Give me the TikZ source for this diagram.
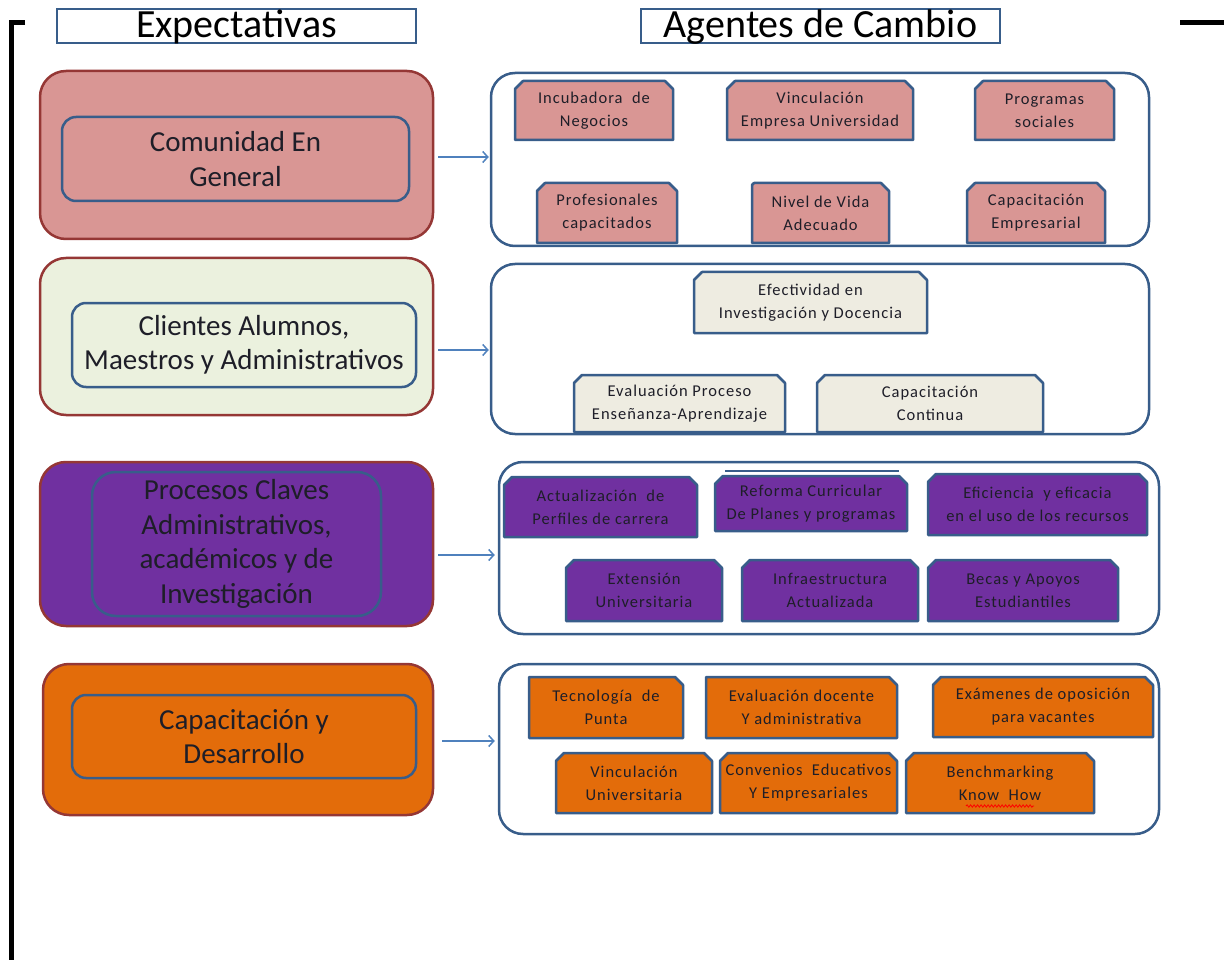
\documentclass[tikz,border=0pt]{standalone}
\usepackage{fontspec}
\setmainfont{Carlito}
\newfontfamily\agentfont[LetterSpace=6]{Carlito}
\usetikzlibrary{arrows.meta,calc,decorations.pathmorphing}
\pgfdeclarelayer{back}
\pgfdeclarelayer{mid}
\pgfsetlayers{back,mid,main}
\definecolor{bluec}{HTML}{385D8A}
\definecolor{arrowc}{HTML}{4F81BD}
\definecolor{redc}{HTML}{953735}
\definecolor{pinkc}{HTML}{D99694}
\definecolor{greenc}{HTML}{EBF1DE}
\definecolor{purpc}{HTML}{7030A0}
\definecolor{orngc}{HTML}{E36C0A}
\definecolor{beigec}{HTML}{EEECE1}
\definecolor{textc}{HTML}{1E1E28}
\tikzset{
  header/.style={draw=bluec, line width=2.5pt, fill=white, inner sep=0pt,
    text height=29pt, text depth=5pt,
    font=\fontsize{40}{44}\selectfont, text=black},
  bigbox/.style={draw=redc, line width=2.5pt, rounded corners=26pt, inner sep=0pt},
  innerbox/.style={draw=bluec, line width=2.5pt, rounded corners=14pt, inner sep=0pt,
    align=center, font=\fontsize{29}{34.5}\selectfont, text=textc},
  container/.style={draw=bluec, line width=2.5pt, rounded corners=24pt, fill=white, inner sep=0pt},
  agenttext/.style={inner sep=0pt, outer sep=0pt, align=center,
    font=\agentfont\fontsize{16.5}{23}\selectfont, text=textc},
  agentframe/.style={draw=bluec, line width=2.5pt, line join=round},
  conn/.style={draw=arrowc, line width=1.5pt, -{Straight Barb[length=5pt,width=11pt,line width=1.5pt]}},
  bracket/.style={draw=black, line width=4.5pt}
}
% name, x1, y1, x2, y2, fill, left snip, text
\newcommand{\agentbox}[8]{%
  \node[agenttext, minimum width={#4pt-#2pt}, minimum height={#5pt-#3pt}]
    (#1) at ({(#2+#4)/2},{(#3+#5)/2}) {#8};
  \begin{pgfonlayer}{mid}
    \draw[agentframe, fill=#6] (#1.south west) -- ([yshift=-#7pt]#1.north west)
      -- ([xshift=#7pt]#1.north west) -- ([xshift=-8pt]#1.north east)
      -- ([yshift=-8pt]#1.north east) -- (#1.south east) -- cycle;
  \end{pgfonlayer}}
\begin{document}
\begin{tikzpicture}[x=1pt, y=-1pt]
\useasboundingbox (0,0) rectangle (1224,960);

% bracket lines
\draw[bracket] (25,22.5) -- (11.5,22.5) -- (11.5,962);
\draw[bracket, line width=5pt] (1180,22.5) -- (1226,22.5);

% headers
\node[header, minimum width=359pt, minimum height=34pt] (h1) at (236.5,26) {Expectativas};
\node[header, minimum width=359pt, minimum height=34pt] (h2) at (820.5,26) {Agentes de Cambio};

% left groups
\node[bigbox, fill=pinkc, minimum width=393pt, minimum height=168pt] (g1) at (236.5,155) {};
\node[innerbox, minimum width=347pt, minimum height=84pt] (g1t) at (235.5,159) {Comunidad En\\General};

\node[bigbox, fill=greenc, minimum width=393pt, minimum height=157pt] (g2) at (236.5,336.5) {};
\node[innerbox, minimum width=344pt, minimum height=84pt] (g2t) at (244,345) {Clientes Alumnos,\\Maestros y Administrativos};

\node[bigbox, fill=purpc, minimum width=393pt, minimum height=164pt] (g3) at (236.5,544) {};
\node[innerbox, rounded corners=24pt, minimum width=289pt, minimum height=144pt] (g3t) at (236.5,544)
  {Procesos Claves\\Administrativos,\\académicos y de\\Investigación};

\node[bigbox, fill=orngc, minimum width=390pt, minimum height=151pt] (g4) at (238,739.5) {};
\node[innerbox, minimum width=344pt, minimum height=83pt] (g4t) at (244,736.5) {Capacitación y\\Desarrollo};

% right containers
\begin{pgfonlayer}{back}
\node[container, minimum width=658pt, minimum height=173pt] (c1) at (820,159.5) {};
\node[container, minimum width=658pt, minimum height=170pt] (c2) at (820,349) {};
\node[container, minimum width=660pt, minimum height=172pt] (c3) at (829,548) {};
\node[container, minimum width=660pt, minimum height=170pt] (c4) at (829,749) {};
\end{pgfonlayer}

% arrows
\draw[conn] ([xshift=4pt,yshift=-2pt]g1.east) -- ([xshift=-1pt,yshift=-2pt]g1.east -| c1.west);
\draw[conn] ([xshift=4pt,yshift=-13.5pt]g2.east) -- ([xshift=-1pt,yshift=-13.5pt]g2.east -| c2.west);
\draw[conn] ([xshift=4pt,yshift=-11pt]g3.east) -- ([xshift=-3pt,yshift=-11pt]g3.east -| c3.west);
\draw[conn] ([xshift=8pt,yshift=-1.5pt]g4.east) -- ([xshift=-3pt,yshift=-1.5pt]g4.east -| c4.west);

% group 1
\agentbox{a11}{515}{81}{673}{140}{pinkc}{8}{Incubadora\ \ de\\Negocios}
\agentbox{a12}{727}{81}{913}{140}{pinkc}{8}{Vinculación\\Empresa Universidad}
\agentbox{a13}{975}{81}{1114}{140}{pinkc}{8}{Programas\\sociales}
\agentbox{a14}{537}{183}{677}{243}{pinkc}{8}{Profesionales\\capacitados}
\agentbox{a15}{752}{183}{889}{243}{pinkc}{2}{Nivel de Vida\\Adecuado}
\agentbox{a16}{967}{183}{1105}{243}{pinkc}{8}{Capacitación\\Empresarial}

% group 2
\agentbox{a21}{694}{272}{927}{333}{beigec}{8}{Efectividad en\\Investigación y Docencia}
\agentbox{a22}{574}{375}{785}{432}{beigec}{8}{Evaluación Proceso\\Enseñanza-Aprendizaje}
\agentbox{a23}{817}{375}{1043}{432}{beigec}{8}{Capacitación\\Continua}

% group 3
\agentbox{a31}{504}{477}{697}{537}{purpc}{8}{Actualización\ \ de\\Perfiles de carrera}
\agentbox{a32}{715}{476}{907}{531}{purpc}{8}{Reforma Curricular\\De Planes y programas}
\draw[draw=bluec, line width=1.5pt] ([xshift=10pt,yshift=5pt]a32.north west) -- ([xshift=-8pt,yshift=5pt]a32.north east);
\agentbox{a33}{928}{474}{1147}{535}{purpc}{8}{Eficiencia\ \ y eficacia\\en el uso de los recursos}
\agentbox{a34}{566}{560}{722}{621}{purpc}{8}{Extensión\\Universitaria}
\agentbox{a35}{742}{560}{918}{621}{purpc}{8}{Infraestructura\\Actualizada}
\agentbox{a36}{928}{560}{1118}{621}{purpc}{8}{Becas y Apoyos\\Estudiantiles}

% group 4
\agentbox{a41}{529}{677}{683}{738}{orngc}{0}{Tecnología\ \ de\\Punta}
\agentbox{a42}{706}{677}{897}{738}{orngc}{0}{Evaluación docente\\Y administrativa}
\agentbox{a43}{933}{677}{1153}{737}{orngc}{8}{Exámenes de oposición\\para vacantes}
\agentbox{a44}{556}{753}{712}{813}{orngc}{8}{Vinculación\\Universitaria}
\agentbox{a45}{720}{753}{897}{813}{orngc}{8}{Convenios\ \ Educativos\\Y Empresariales}
\agentbox{a46}{906}{753}{1094}{813}{orngc}{8}{Benchmarking\\Know\ \ How}
\draw[red, line width=0.8pt, decorate, decoration={snake, amplitude=1.2pt, segment length=3.5pt}]
  (966,806) -- (1034,806);
\end{tikzpicture}
\end{document}
